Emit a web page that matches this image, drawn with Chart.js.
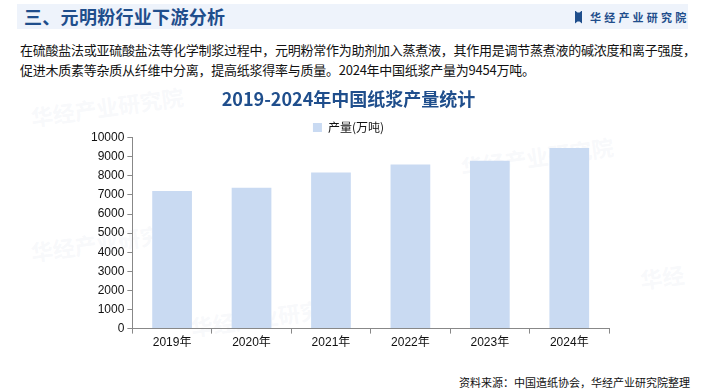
<!DOCTYPE html>
<html>
<head>
<meta charset="utf-8">
<script src="https://cdn.jsdelivr.net/npm/chart.js@4/dist/chart.umd.min.js"></script>
<style>
html,body{margin:0;padding:0;background:#fff;}
body{width:703px;height:391px;position:relative;overflow:hidden;font-family:"Noto Sans CJK SC","Noto Sans",sans-serif;}
#hdr{position:absolute;left:17px;top:4px;width:671px;height:25px;background:#eef3fb;}
#ttl{position:absolute;left:24px;top:3px;font-size:18px;font-weight:bold;color:#1f4e8c;line-height:26px;letter-spacing:0.3px;}
#logo{position:absolute;left:575px;top:9px;height:16px;display:flex;align-items:center;}
#logo .ic{width:7px;height:13px;background:#1f4e8c;margin-right:8px;clip-path:polygon(0 0,35% 15%,65% 15%,100% 0,100% 100%,65% 85%,35% 85%,0 100%);}
#logo span{font-size:11px;font-weight:bold;color:#1f4e8c;letter-spacing:3.2px;}
#para{position:absolute;left:20px;top:40px;width:690px;font-size:13px;line-height:20px;color:#111;white-space:nowrap;letter-spacing:-0.25px;}
#src{position:absolute;right:13px;top:374px;font-size:11px;color:#111;}
.wm{position:absolute;font-size:22px;font-weight:bold;color:rgba(200,210,225,0.15);transform:rotate(-8deg);white-space:nowrap;}
#wrap{position:absolute;left:0;top:0;width:703px;height:391px;}
</style>
</head>
<body>
<div class="wm" style="left:30px;top:90px;">华经产业研究院</div>
<div class="wm" style="left:460px;top:140px;">华经产业研究院</div>
<div class="wm" style="left:190px;top:300px;">华经产业研究院</div>
<div class="wm" style="left:30px;top:225px;">华经产业研究院</div>
<div class="wm" style="left:640px;top:260px;">华经</div>
<div id="hdr"></div>
<div id="ttl">三、元明粉行业下游分析</div>
<div id="logo"><div class="ic"></div><span>华经产业研究院</span></div>
<div id="para">在硫酸盐法或亚硫酸盐法等化学制浆过程中，元明粉常作为助剂加入蒸煮液，其作用是调节蒸煮液的碱浓度和离子强度，<br>促进木质素等杂质从纤维中分离，提高纸浆得率与质量。2024年中国纸浆产量为9454万吨。</div>
<div id="src">资料来源：中国造纸协会，华经产业研究院整理</div>
<div id="wrap"><canvas id="c" width="703" height="391"></canvas></div>
<script>
const categories = ["2019年","2020年","2021年","2022年","2023年","2024年"];
const production = [7207, 7378, 8177, 8587, 8793, 9454];
const seriesName = "产量(万吨)";
const chartTitle = "2019-2024年中国纸浆产量统计";

const axisFont = {family:"'Liberation Sans','Noto Sans CJK SC',sans-serif", size:12};
const ch = new Chart(document.getElementById('c'), {
  type:'bar',
  data:{labels:categories, datasets:[{label:seriesName, data:production, backgroundColor:'#c9daf2', borderWidth:0, barPercentage:0.5, categoryPercentage:1.0}]},
  options:{
    responsive:false, animation:false, devicePixelRatio:1,
    layout:{padding:{left:88, right:94, top:88, bottom:39}},
    plugins:{
      title:{display:true, text:chartTitle, color:'#1f4e8c', font:{family:"'Noto Sans CJK SC',sans-serif", size:18, weight:'bold'}, padding:{top:0,bottom:12}},
      legend:{display:true, position:'top', align:'center', labels:{boxWidth:9, boxHeight:9, color:'#111', font:{family:"'Noto Sans CJK SC',sans-serif", size:12}, padding:0}},
      tooltip:{enabled:false}
    },
    scales:{
      x:{grid:{display:true, drawOnChartArea:false, offset:true, tickLength:5, color:'#888'}, border:{color:'#888'}, ticks:{color:'#111', font:axisFont, padding:2}},
      y:{min:0, max:10000, ticks:{stepSize:1000, color:'#111', font:axisFont, padding:3, callback:(v)=>String(v)}, grid:{display:true, drawOnChartArea:false, tickLength:5, color:'#888'}, border:{color:'#888'}}
    }
  }
});
if (ch.legend) {
  const origFit = ch.legend.fit;
  ch.legend.fit = function(){ origFit.call(this); this.height = Math.max(0, this.height - 6); };
  ch.update();
}
</script>
</body>
</html>
